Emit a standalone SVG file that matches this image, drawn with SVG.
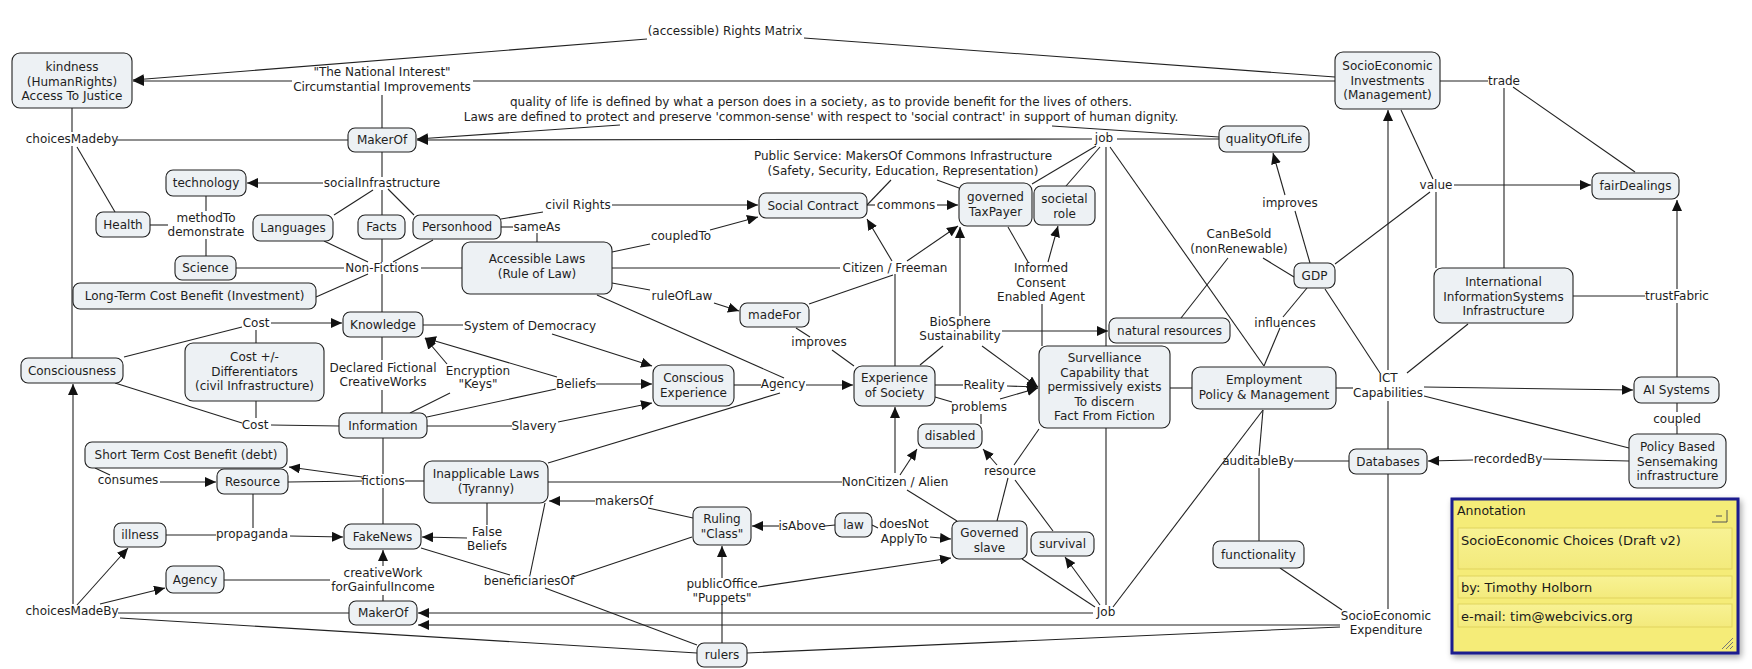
<svg xmlns="http://www.w3.org/2000/svg" width="1752" height="669" viewBox="0 0 1752 669">
<style>
  .n rect{fill:#edf1f4;stroke:#222;stroke-width:1.1}
  text{font-family:"DejaVu Sans","Liberation Sans",sans-serif;font-size:12px;fill:#1e1e1e;text-anchor:middle}
  #connectors line{stroke:#222;stroke-width:1.1}
  #connectors line.a{marker-end:url(#arr)}
  .an text{text-anchor:start;fill:#1a1a1a;font-size:13px}
  .an text.title{font-size:12.5px}
</style>
<defs>
  <marker id="arr" markerUnits="userSpaceOnUse" markerWidth="11" markerHeight="10" refX="11" refY="5" orient="auto">
    <path d="M0,0 L11,5 L0,10 z" fill="#111"/>
  </marker>
  <linearGradient id="fld" x1="0" y1="0" x2="0" y2="1">
    <stop offset="0" stop-color="#f8f294"/>
    <stop offset="1" stop-color="#f3ea7c"/>
  </linearGradient>
  <filter id="sh" x="-5%" y="-5%" width="112%" height="115%">
    <feGaussianBlur in="SourceAlpha" stdDeviation="3"/>
    <feOffset dx="2" dy="3"/>
    <feComponentTransfer><feFuncA type="linear" slope="0.35"/></feComponentTransfer>
    <feMerge><feMergeNode/><feMergeNode in="SourceGraphic"/></feMerge>
  </filter>
</defs>
<rect width="1752" height="669" fill="#fff"/>

<g id="connectors">
  <!-- top band -->
  <line x1="804" y1="38" x2="1335" y2="77"/>
  <line class="a" x1="647" y1="39" x2="133" y2="80"/>
  <line x1="1335" y1="81" x2="473" y2="81"/>
  <line class="a" x1="292" y1="81" x2="133" y2="81"/>
  <line x1="382" y1="95" x2="382" y2="128"/>
  <line x1="1219" y1="137" x2="1052" y2="126"/>
  <line class="a" x1="620" y1="125" x2="417" y2="139"/>
  <line class="a" x1="1092" y1="139" x2="417" y2="140"/>
  <line x1="1117" y1="139" x2="1219" y2="139"/>
  <line x1="1096" y1="146" x2="1032" y2="184"/>
  <line x1="1100" y1="147" x2="1066" y2="186"/>
  <line x1="1106" y1="147" x2="1106" y2="346"/>
  <line x1="1110" y1="147" x2="1264" y2="366"/>
  <!-- upper left -->
  <line x1="348" y1="140" x2="117" y2="140"/>
  <line x1="72" y1="108" x2="72" y2="132"/>
  <line x1="72" y1="146" x2="72" y2="358"/>
  <line x1="77" y1="147" x2="115" y2="212"/>
  <line x1="382" y1="152" x2="382" y2="177"/>
  <line class="a" x1="323" y1="183" x2="247" y2="183"/>
  <line x1="373" y1="190" x2="334" y2="215"/>
  <line x1="382" y1="190" x2="382" y2="215"/>
  <line x1="388" y1="189" x2="414" y2="215"/>
  <line x1="206" y1="196" x2="206" y2="211"/>
  <line x1="168" y1="225" x2="150" y2="225"/>
  <line x1="206" y1="239" x2="206" y2="256"/>
  <line x1="324" y1="241" x2="368" y2="262"/>
  <line x1="433" y1="240" x2="393" y2="262"/>
  <line x1="382" y1="239" x2="382" y2="262"/>
  <line x1="382" y1="274" x2="382" y2="312"/>
  <line x1="236" y1="268" x2="344" y2="268"/>
  <line x1="316" y1="297" x2="368" y2="274"/>
  <line x1="421" y1="268" x2="462" y2="268"/>
  <!-- rule of law cluster -->
  <line x1="501" y1="219" x2="543" y2="212"/>
  <line class="a" x1="612" y1="205" x2="758" y2="205"/>
  <line x1="501" y1="227" x2="513" y2="227"/>
  <line x1="537" y1="233" x2="537" y2="242"/>
  <line x1="612" y1="252" x2="650" y2="244"/>
  <line class="a" x1="710" y1="230" x2="758" y2="217"/>
  <line x1="612" y1="268" x2="840" y2="268"/>
  <line class="a" x1="892" y1="261" x2="867" y2="219"/>
  <line class="a" x1="907" y1="261" x2="958" y2="226"/>
  <line x1="895" y1="274" x2="895" y2="366"/>
  <line x1="809" y1="304" x2="893" y2="275"/>
  <line x1="612" y1="283" x2="650" y2="290"/>
  <line class="a" x1="714" y1="303" x2="739" y2="311"/>
  <line x1="796" y1="328" x2="810" y2="337"/>
  <line x1="832" y1="350" x2="854" y2="366"/>
  <line x1="597" y1="295" x2="784" y2="378"/>
  <!-- public service / taxpayer -->
  <line x1="891" y1="180" x2="867" y2="205"/>
  <line x1="937" y1="180" x2="959" y2="188"/>
  <line x1="867" y1="205" x2="875" y2="205"/>
  <line class="a" x1="937" y1="205" x2="958" y2="205"/>
  <line x1="1008" y1="227" x2="1028" y2="262"/>
  <line class="a" x1="1048" y1="262" x2="1058" y2="226"/>
  <line x1="1042" y1="304" x2="1042" y2="346"/>
  <line class="a" x1="960" y1="316" x2="960" y2="227"/>
  <line class="a" x1="1002" y1="331" x2="1108" y2="331"/>
  <line x1="920" y1="365" x2="943" y2="346"/>
  <line class="a" x1="982" y1="346" x2="1038" y2="387"/>
  <line x1="935" y1="385" x2="963" y2="385"/>
  <line class="a" x1="1007" y1="386" x2="1038" y2="387"/>
  <line x1="935" y1="397" x2="952" y2="402"/>
  <line class="a" x1="1000" y1="399" x2="1038" y2="388"/>
  <line x1="981" y1="414" x2="981" y2="424"/>
  <!-- knowledge / information -->
  <line x1="423" y1="325" x2="463" y2="325"/>
  <line class="a" x1="552" y1="334" x2="652" y2="366"/>
  <line x1="124" y1="357" x2="242" y2="327"/>
  <line class="a" x1="271" y1="323" x2="342" y2="323"/>
  <line x1="256" y1="330" x2="256" y2="343"/>
  <line x1="115" y1="383" x2="242" y2="423"/>
  <line x1="271" y1="425" x2="339" y2="426"/>
  <line x1="256" y1="401" x2="256" y2="418"/>
  <line x1="382" y1="337" x2="382" y2="360"/>
  <line x1="382" y1="390" x2="382" y2="413"/>
  <line class="a" x1="447" y1="364" x2="425" y2="338"/>
  <line class="a" x1="557" y1="377" x2="425" y2="338"/>
  <line x1="450" y1="393" x2="410" y2="413"/>
  <line x1="427" y1="417" x2="556" y2="389"/>
  <line class="a" x1="596" y1="384" x2="652" y2="384"/>
  <line x1="427" y1="426" x2="512" y2="426"/>
  <line class="a" x1="558" y1="422" x2="652" y2="403"/>
  <line x1="734" y1="385" x2="761" y2="385"/>
  <line class="a" x1="806" y1="385" x2="853" y2="385"/>
  <line x1="548" y1="463" x2="780" y2="393"/>
  <!-- fictions / resource -->
  <line x1="383" y1="438" x2="383" y2="474"/>
  <line class="a" x1="362" y1="477" x2="289" y2="467"/>
  <line x1="362" y1="481" x2="288" y2="482"/>
  <line x1="405" y1="481" x2="424" y2="481"/>
  <line x1="383" y1="488" x2="383" y2="524"/>
  <line x1="95" y1="468" x2="110" y2="475"/>
  <line class="a" x1="160" y1="482" x2="216" y2="482"/>
  <line x1="253" y1="494" x2="253" y2="528"/>
  <line x1="166" y1="535" x2="216" y2="535"/>
  <line class="a" x1="290" y1="536" x2="343" y2="537"/>
  <!-- choicesMadeBy (bottom) -->
  <line class="a" x1="73" y1="604" x2="73" y2="384"/>
  <line class="a" x1="77" y1="605" x2="128" y2="548"/>
  <line class="a" x1="100" y1="604" x2="165" y2="588"/>
  <line x1="118" y1="613" x2="349" y2="613"/>
  <line x1="120" y1="618" x2="697" y2="653"/>
  <line x1="224" y1="580" x2="330" y2="580"/>
  <line class="a" x1="383" y1="566" x2="383" y2="550"/>
  <line x1="383" y1="595" x2="383" y2="601"/>
  <line class="a" x1="1093" y1="613" x2="418" y2="613"/>
  <line class="a" x1="1340" y1="625" x2="418" y2="625"/>
  <line x1="747" y1="653" x2="1340" y2="627"/>
  <!-- non-citizen / ruling class -->
  <line x1="548" y1="482" x2="842" y2="482"/>
  <line class="a" x1="895" y1="473" x2="895" y2="407"/>
  <line class="a" x1="900" y1="475" x2="917" y2="449"/>
  <line x1="907" y1="490" x2="957" y2="521"/>
  <line x1="1039" y1="429" x2="1014" y2="465"/>
  <line class="a" x1="997" y1="465" x2="983" y2="449"/>
  <line x1="1008" y1="478" x2="997" y2="521"/>
  <line x1="1015" y1="480" x2="1053" y2="531"/>
  <line x1="693" y1="518" x2="648" y2="508"/>
  <line class="a" x1="595" y1="501" x2="549" y2="501"/>
  <line x1="835" y1="525" x2="825" y2="526"/>
  <line class="a" x1="779" y1="526" x2="752" y2="526"/>
  <line x1="872" y1="525" x2="878" y2="528"/>
  <line class="a" x1="930" y1="537" x2="951" y2="539"/>
  <line class="a" x1="722" y1="578" x2="722" y2="546"/>
  <line x1="722" y1="604" x2="722" y2="643"/>
  <line class="a" x1="758" y1="587" x2="951" y2="558"/>
  <line x1="692" y1="537" x2="573" y2="577"/>
  <line x1="510" y1="575" x2="421" y2="548"/>
  <line x1="530" y1="575" x2="545" y2="503"/>
  <line x1="545" y1="588" x2="697" y2="645"/>
  <line x1="487" y1="503" x2="487" y2="525"/>
  <line class="a" x1="467" y1="538" x2="422" y2="537"/>
  <!-- Job (bottom) -->
  <line x1="1095" y1="607" x2="1022" y2="559"/>
  <line class="a" x1="1100" y1="605" x2="1065" y2="557"/>
  <line x1="1106" y1="605" x2="1106" y2="428"/>
  <line x1="1113" y1="607" x2="1263" y2="410"/>
  <!-- economy cluster -->
  <line x1="1170" y1="388" x2="1192" y2="388"/>
  <line x1="1310" y1="263" x2="1295" y2="211"/>
  <line class="a" x1="1285" y1="195" x2="1273" y2="153"/>
  <line x1="1294" y1="277" x2="1263" y2="258"/>
  <line x1="1228" y1="258" x2="1181" y2="318"/>
  <line x1="1307" y1="288" x2="1283" y2="317"/>
  <line x1="1280" y1="328" x2="1264" y2="366"/>
  <line x1="1325" y1="289" x2="1380" y2="373"/>
  <line x1="1407" y1="373" x2="1468" y2="324"/>
  <line x1="1336" y1="388" x2="1353" y2="388"/>
  <line class="a" x1="1424" y1="387" x2="1633" y2="390"/>
  <line x1="1424" y1="396" x2="1629" y2="448"/>
  <line class="a" x1="1388" y1="370" x2="1388" y2="110"/>
  <line x1="1388" y1="401" x2="1388" y2="449"/>
  <line x1="1388" y1="474" x2="1388" y2="609"/>
  <line x1="1280" y1="568" x2="1342" y2="610"/>
  <line x1="1294" y1="461" x2="1349" y2="461"/>
  <line x1="1263" y1="410" x2="1259" y2="456"/>
  <line x1="1259" y1="468" x2="1259" y2="541"/>
  <line class="a" x1="1473" y1="460" x2="1428" y2="461"/>
  <line x1="1543" y1="459" x2="1629" y2="461"/>
  <line x1="1677" y1="403" x2="1677" y2="412"/>
  <line x1="1677" y1="426" x2="1677" y2="434"/>
  <line x1="1677" y1="377" x2="1677" y2="303"/>
  <line class="a" x1="1677" y1="289" x2="1677" y2="200"/>
  <line x1="1573" y1="296" x2="1645" y2="296"/>
  <line x1="1401" y1="110" x2="1433" y2="179"/>
  <line class="a" x1="1454" y1="185" x2="1591" y2="185"/>
  <line x1="1430" y1="192" x2="1335" y2="264"/>
  <line x1="1436" y1="192" x2="1436" y2="268"/>
  <line x1="1440" y1="81" x2="1488" y2="81"/>
  <line x1="1513" y1="87" x2="1635" y2="172"/>
  <line x1="1504" y1="88" x2="1504" y2="268"/>
</g>

<!-- concepts -->
<g id="kindness" class="n"><rect x="12" y="53" width="120" height="55" rx="8"/><text x="72" y="71">kindness</text><text x="72" y="85.5">(HumanRights)</text><text x="72" y="100">Access To Justice</text></g>
<g id="makerof-top" class="n"><rect x="348" y="128" width="68" height="24" rx="7"/><text x="382" y="144">MakerOf</text></g>
<g id="technology" class="n"><rect x="166" y="170" width="80" height="26" rx="7"/><text x="206" y="187">technology</text></g>
<g id="health" class="n"><rect x="96" y="212" width="54" height="25" rx="7"/><text x="123" y="229">Health</text></g>
<g id="languages" class="n"><rect x="253" y="215" width="80" height="26" rx="7"/><text x="293" y="232">Languages</text></g>
<g id="facts" class="n"><rect x="358" y="215" width="47" height="24" rx="7"/><text x="381.5" y="231">Facts</text></g>
<g id="personhood" class="n"><rect x="413" y="215" width="88" height="24" rx="7"/><text x="457" y="231">Personhood</text></g>
<g id="science" class="n"><rect x="175" y="256" width="61" height="24" rx="7"/><text x="205.5" y="272">Science</text></g>
<g id="longterm" class="n"><rect x="73" y="283" width="243" height="26" rx="7"/><text x="194.5" y="300">Long-Term Cost Benefit (Investment)</text></g>
<g id="knowledge" class="n"><rect x="343" y="312" width="80" height="25" rx="7"/><text x="383" y="328.5">Knowledge</text></g>
<g id="consciousness" class="n"><rect x="21" y="358" width="102" height="25" rx="7"/><text x="72" y="374.5">Consciousness</text></g>
<g id="cost-diff" class="n"><rect x="185" y="343" width="139" height="58" rx="8"/><text x="254.5" y="361">Cost +/-</text><text x="254.5" y="375.5">Differentiators</text><text x="254.5" y="390">(civil Infrastructure)</text></g>
<g id="information" class="n"><rect x="339" y="413" width="88" height="25" rx="7"/><text x="383" y="429.5">Information</text></g>
<g id="shortterm" class="n"><rect x="85" y="442" width="202" height="26" rx="7"/><text x="186" y="459">Short Term Cost Benefit (debt)</text></g>
<g id="resource" class="n"><rect x="217" y="469" width="71" height="25" rx="7"/><text x="252.5" y="485.5">Resource</text></g>
<g id="illness" class="n"><rect x="114" y="523" width="52" height="24" rx="7"/><text x="140" y="539">illness</text></g>
<g id="fakenews" class="n"><rect x="344" y="524" width="77" height="25" rx="7"/><text x="382.5" y="540.5">FakeNews</text></g>
<g id="agency" class="n"><rect x="166" y="566" width="58" height="27" rx="7"/><text x="195" y="583.5">Agency</text></g>
<g id="makerof-bottom" class="n"><rect x="349" y="601" width="68" height="24" rx="7"/><text x="383" y="617">MakerOf</text></g>
<g id="accessible-laws" class="n"><rect x="462" y="242" width="150" height="52" rx="8"/><text x="537" y="263">Accessible Laws</text><text x="537" y="278">(Rule of Law)</text></g>
<g id="social-contract" class="n"><rect x="759" y="193" width="108" height="25" rx="7"/><text x="813" y="209.5">Social Contract</text></g>
<g id="madefor" class="n"><rect x="740" y="303" width="69" height="24" rx="7"/><text x="774.5" y="319">madeFor</text></g>
<g id="conscious-experience" class="n"><rect x="653" y="365" width="81" height="41" rx="8"/><text x="693.5" y="382">Conscious</text><text x="693.5" y="396.5">Experience</text></g>
<g id="inapplicable-laws" class="n"><rect x="424" y="461" width="124" height="42" rx="8"/><text x="486" y="478">Inapplicable Laws</text><text x="486" y="492.5">(Tyranny)</text></g>
<g id="ruling-class" class="n"><rect x="693" y="507" width="58" height="38" rx="7"/><text x="722" y="523">Ruling</text><text x="722" y="537.5">"Class"</text></g>
<g id="law" class="n"><rect x="835" y="513" width="37" height="24" rx="7"/><text x="853.5" y="529">law</text></g>
<g id="rulers" class="n"><rect x="697" y="643" width="50" height="24" rx="7"/><text x="722" y="659">rulers</text></g>
<g id="taxpayer" class="n"><rect x="959" y="183" width="73" height="43" rx="8"/><text x="995.5" y="201">governed</text><text x="995.5" y="215.5">TaxPayer</text></g>
<g id="societal-role" class="n"><rect x="1034" y="186" width="61" height="39" rx="7"/><text x="1064.5" y="203">societal</text><text x="1064.5" y="217.5">role</text></g>
<g id="experience-society" class="n"><rect x="854" y="366" width="81" height="40" rx="8"/><text x="894.5" y="382">Experience</text><text x="894.5" y="396.5">of Society</text></g>
<g id="surveillance" class="n"><rect x="1039" y="346" width="131" height="82" rx="8"/><text x="1104.5" y="362">Survelliance</text><text x="1104.5" y="376.5">Capability that</text><text x="1104.5" y="391">permissively exists</text><text x="1104.5" y="405.5">To discern</text><text x="1104.5" y="420">Fact From Fiction</text></g>
<g id="natural-resources" class="n"><rect x="1109" y="318" width="121" height="25" rx="7"/><text x="1169.5" y="334.5">natural resources</text></g>
<g id="disabled" class="n"><rect x="918" y="424" width="64" height="24" rx="7"/><text x="950" y="440">disabled</text></g>
<g id="governed-slave" class="n"><rect x="952" y="521" width="75" height="38" rx="7"/><text x="989.5" y="537">Governed</text><text x="989.5" y="551.5">slave</text></g>
<g id="survival" class="n"><rect x="1031" y="532" width="63" height="24" rx="7"/><text x="1062.5" y="548">survival</text></g>
<g id="quality-of-life" class="n"><rect x="1219" y="126" width="90" height="26" rx="7"/><text x="1264" y="143">qualityOfLife</text></g>
<g id="gdp" class="n"><rect x="1294" y="263" width="41" height="25" rx="7"/><text x="1314.5" y="279.5">GDP</text></g>
<g id="employment" class="n"><rect x="1192" y="367" width="144" height="42" rx="8"/><text x="1264" y="384">Employment</text><text x="1264" y="398.5">Policy &amp; Management</text></g>
<g id="functionality" class="n"><rect x="1213" y="541" width="91" height="27" rx="7"/><text x="1258.5" y="558.5">functionality</text></g>
<g id="databases" class="n"><rect x="1349" y="449" width="78" height="25" rx="7"/><text x="1388" y="465.5">Databases</text></g>
<g id="socioeconomic-investments" class="n"><rect x="1335" y="52" width="105" height="57" rx="8"/><text x="1387.5" y="70">SocioEconomic</text><text x="1387.5" y="84.5">Investments</text><text x="1387.5" y="99">(Management)</text></g>
<g id="fair-dealings" class="n"><rect x="1592" y="173" width="87" height="26" rx="7"/><text x="1635.5" y="190">fairDealings</text></g>
<g id="intl-infosys" class="n"><rect x="1434" y="268" width="139" height="55" rx="8"/><text x="1503.5" y="286">International</text><text x="1503.5" y="300.5">InformationSystems</text><text x="1503.5" y="315">Infrastructure</text></g>
<g id="ai-systems" class="n"><rect x="1634" y="377" width="85" height="26" rx="7"/><text x="1676.5" y="394">AI Systems</text></g>
<g id="policy-sensemaking" class="n"><rect x="1629" y="434" width="97" height="54" rx="8"/><text x="1677.5" y="451">Policy Based</text><text x="1677.5" y="465.5">Sensemaking</text><text x="1677.5" y="480">infrastructure</text></g>

<!-- linking phrases -->
<g id="lp-rights-matrix"><text x="725" y="35">(accessible) Rights Matrix</text></g>
<g id="lp-national-interest"><text x="382" y="76">"The National Interest"</text><text x="382" y="91">Circumstantial Improvements</text></g>
<g id="lp-quality-defined"><text x="821" y="106">quality of life is defined by what a person does in a society, as to provide benefit for the lives of others.</text><text x="821" y="121">Laws are defined to protect and preserve 'common-sense' with respect to 'social contract' in support of human dignity.</text></g>
<g id="lp-choices-top"><text x="72" y="143">choicesMadeby</text></g>
<g id="lp-social-infra"><text x="382" y="187">socialInfrastructure</text></g>
<g id="lp-method"><text x="206" y="222">methodTo</text><text x="206" y="236">demonstrate</text></g>
<g id="lp-nonfictions"><text x="382" y="272">Non-Fictions</text></g>
<g id="lp-civil-rights"><text x="578" y="209">civil Rights</text></g>
<g id="lp-sameas"><text x="537" y="231">sameAs</text></g>
<g id="lp-coupledto"><text x="681" y="240">coupledTo</text></g>
<g id="lp-ruleoflaw"><text x="682" y="300">ruleOfLaw</text></g>
<g id="lp-public-service"><text x="903" y="160">Public Service: MakersOf Commons Infrastructure</text><text x="903" y="175">(Safety, Security, Education, Representation)</text></g>
<g id="lp-commons"><text x="906" y="209">commons</text></g>
<g id="lp-job-top"><text x="1104" y="142">job</text></g>
<g id="lp-citizen"><text x="895" y="272">Citizen / Freeman</text></g>
<g id="lp-informed"><text x="1041" y="272">Informed</text><text x="1041" y="287">Consent</text><text x="1041" y="301">Enabled Agent</text></g>
<g id="lp-biosphere"><text x="960" y="326">BioSphere</text><text x="960" y="340">Sustainability</text></g>
<g id="lp-improves-society"><text x="819" y="346">improves</text></g>
<g id="lp-democracy"><text x="530" y="330">System of Democracy</text></g>
<g id="lp-cost-top"><text x="256" y="327">Cost</text></g>
<g id="lp-declared"><text x="383" y="372">Declared Fictional</text><text x="383" y="386">CreativeWorks</text></g>
<g id="lp-encryption"><text x="478" y="375">Encryption</text><text x="478" y="388">"Keys"</text></g>
<g id="lp-beliefs"><text x="576" y="388">Beliefs</text></g>
<g id="lp-agency"><text x="783" y="388">Agency</text></g>
<g id="lp-reality"><text x="984" y="389">Reality</text></g>
<g id="lp-problems"><text x="979" y="411">problems</text></g>
<g id="lp-cost-bottom"><text x="255" y="429">Cost</text></g>
<g id="lp-slavery"><text x="534" y="430">Slavery</text></g>
<g id="lp-consumes"><text x="128" y="484">consumes</text></g>
<g id="lp-fictions"><text x="383" y="485">fictions</text></g>
<g id="lp-noncitizen"><text x="895" y="486">NonCitizen / Alien</text></g>
<g id="lp-resource"><text x="1010" y="475">resource</text></g>
<g id="lp-makersof"><text x="624" y="505">makersOf</text></g>
<g id="lp-isabove"><text x="802" y="530">isAbove</text></g>
<g id="lp-doesnot"><text x="904" y="528">doesNot</text><text x="904" y="543">ApplyTo</text></g>
<g id="lp-propaganda"><text x="252" y="538">propaganda</text></g>
<g id="lp-false-beliefs"><text x="487" y="536">False</text><text x="487" y="550">Beliefs</text></g>
<g id="lp-creativework"><text x="383" y="577">creativeWork</text><text x="383" y="591">forGainfulIncome</text></g>
<g id="lp-beneficiaries"><text x="529" y="585">beneficiariesOf</text></g>
<g id="lp-publicoffice"><text x="722" y="588">publicOffice</text><text x="722" y="602">"Puppets"</text></g>
<g id="lp-choices-bottom"><text x="72" y="615">choicesMadeBy</text></g>
<g id="lp-job-bottom"><text x="1106" y="616">Job</text></g>
<g id="lp-trade"><text x="1504" y="85">trade</text></g>
<g id="lp-value"><text x="1436" y="189">value</text></g>
<g id="lp-improves-qol"><text x="1290" y="207">improves</text></g>
<g id="lp-canbesold"><text x="1239" y="238">CanBeSold</text><text x="1239" y="253">(nonRenewable)</text></g>
<g id="lp-influences"><text x="1285" y="327">influences</text></g>
<g id="lp-ict"><text x="1388" y="382">ICT</text><text x="1388" y="397">Capabilities</text></g>
<g id="lp-trustfabric"><text x="1677" y="300">trustFabric</text></g>
<g id="lp-coupled"><text x="1677" y="423">coupled</text></g>
<g id="lp-auditable"><text x="1258" y="465">auditableBy</text></g>
<g id="lp-recordedby"><text x="1508" y="463">recordedBy</text></g>
<g id="lp-expenditure"><text x="1386" y="620">SocioEconomic</text><text x="1386" y="634">Expenditure</text></g>

<!-- annotation note -->
<g id="annotation" class="an">
  <rect x="1452" y="499" width="286" height="154" fill="#f5ec78" stroke="#1b1b8e" stroke-width="3" filter="url(#sh)"/>
  <text class="title" x="1457" y="515">Annotation</text>
  <path d="M1716,516 h6 M1712,522 h15 v-12" fill="none" stroke="#555" stroke-width="1"/>
  <rect x="1458" y="528" width="274" height="41" fill="url(#fld)" stroke="#e0d35e" stroke-width="1"/>
  <text x="1461" y="545">SocioEconomic Choices (Draft v2)</text>
  <rect x="1458" y="576" width="274" height="22" fill="url(#fld)" stroke="#e0d35e" stroke-width="1"/>
  <text x="1461" y="592">by: Timothy Holborn</text>
  <rect x="1458" y="604" width="274" height="23" fill="url(#fld)" stroke="#e0d35e" stroke-width="1"/>
  <text x="1461" y="621">e-mail: tim@webcivics.org</text>
  <path d="M1722,649 l11,-11 M1726,649 l7,-7 M1730,649 l3,-3" stroke="#777" stroke-width="1"/>
</g>
</svg>
